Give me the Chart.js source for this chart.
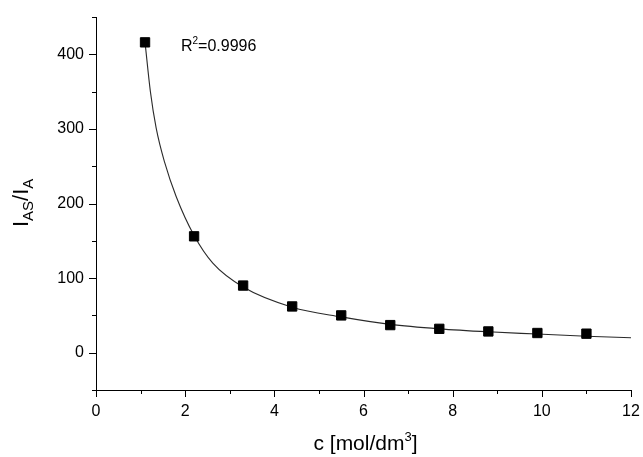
<!DOCTYPE html>
<html>
<head>
<meta charset="utf-8">
<script src="https://cdn.jsdelivr.net/npm/chart.js@4.4.1/dist/chart.umd.min.js"></script>
<style>
  html, body { margin: 0; padding: 0; background: #fff; }
  #wrap { width: 643px; height: 457px; position: relative; }
</style>
</head>
<body>
<div id="wrap"><canvas id="c" width="643" height="457"></canvas></div>
<script>
// ---- data ----
const concentration = [1.1, 2.2, 3.3, 4.4, 5.5, 6.6, 7.7, 8.8, 9.9, 11.0];
const intensityRatio = [416, 156, 90, 62, 50, 37, 32, 28.5, 26.4, 25.5];
// fitted curve
const fitX = [1.1, 1.22, 1.35, 1.54, 1.8, 2.2, 2.62, 3.3, 4.4, 5.5, 6.6, 7.7, 8.8, 9.9, 11, 12];
const fitY = [416, 350, 301, 255, 209, 157, 120, 88, 61, 48, 38, 32, 28, 25, 22, 20];
const xMajorTicks = [0, 2, 4, 6, 8, 10, 12];
const yMajorTicks = [0, 100, 200, 300, 400];
const rSquaredText = "=0.9996";

const FONT = "'Liberation Sans', Arial, sans-serif";

const decorPlugin = {
  id: 'decor',
  afterDraw(chart) {
    const ctx = chart.ctx;
    const xs = chart.scales.x, ys = chart.scales.y;
    ctx.save();
    ctx.strokeStyle = '#000';
    ctx.lineWidth = 1;
    // y ticks (outward, left)
    ys.ticks.forEach(t => {
      const py = Math.round(ys.getPixelForValue(t.value)) + 0.5;
      const len = yMajorTicks.includes(t.value) ? 7 : 4;
      ctx.beginPath();
      ctx.moveTo(ys.right - len, py);
      ctx.lineTo(ys.right, py);
      ctx.stroke();
    });
    // x ticks (outward, down)
    xs.ticks.forEach(t => {
      const px = Math.round(xs.getPixelForValue(t.value)) + 0.5;
      const len = xMajorTicks.includes(t.value) ? 7 : 4;
      ctx.beginPath();
      ctx.moveTo(px, xs.top);
      ctx.lineTo(px, xs.top + len);
      ctx.stroke();
    });

    ctx.fillStyle = '#000';
    // x axis title: c [mol/dm³]
    const ca = chart.chartArea;
    ctx.font = '21px ' + FONT;
    const part1 = 'c [mol/dm', part3 = ']';
    ctx.textBaseline = 'alphabetic';
    const w1 = ctx.measureText(part1).width;
    const w3 = ctx.measureText(part3).width;
    ctx.font = '13px ' + FONT;
    const w2 = ctx.measureText('3').width;
    const total = w1 + w2 + w3;
    let sx = (ca.left + ca.right) / 2 - total / 2 + 2;
    const by = 450;
    ctx.font = '21px ' + FONT;
    ctx.textAlign = 'left';
    ctx.fillText(part1, sx, by);
    ctx.font = '13px ' + FONT;
    ctx.fillText('3', sx + w1, by - 9);
    ctx.font = '21px ' + FONT;
    ctx.fillText(part3, sx + w1 + w2, by);

    // y axis title: I_AS / I_A (rotated)
    ctx.save();
    ctx.translate(28, 227);
    ctx.rotate(-Math.PI / 2);
    let cx = 0;
    const segs = [
      ['I', 22, 0], ['AS', 15, 5], ['/', 22, 0], ['I', 22, 0], ['A', 15, 5]
    ];
    segs.forEach(([txt, size, dy]) => {
      ctx.font = size + 'px ' + FONT;
      ctx.fillText(txt, cx, dy);
      cx += ctx.measureText(txt).width;
    });
    ctx.restore();

    // R² annotation
    const rx = 181, ry = 51;
    ctx.font = '16px ' + FONT;
    ctx.fillText('R', rx, ry);
    const wr = ctx.measureText('R').width;
    ctx.font = '10px ' + FONT;
    ctx.fillText('2', rx + wr, ry - 7);
    const w2b = ctx.measureText('2').width;
    ctx.font = '16px ' + FONT;
    ctx.fillText(rSquaredText, rx + wr + w2b, ry);
    ctx.restore();
  }
};

new Chart(document.getElementById('c'), {
  type: 'scatter',
  data: {
    datasets: [
      {
        label: 'fit',
        data: fitX.map((x, i) => ({ x: x, y: fitY[i] })),
        showLine: true,
        borderColor: '#2a2a2a',
        borderWidth: 1.1,
        pointRadius: 0,
        cubicInterpolationMode: 'monotone',
        order: 2
      },
      {
        label: 'data',
        data: concentration.map((x, i) => ({ x: x, y: intensityRatio[i] })),
        pointStyle: 'rect',
        pointRadius: 6.6,
        backgroundColor: '#000',
        borderColor: '#000',
        borderWidth: 1,
        order: 1
      }
    ]
  },
  options: {
    responsive: false,
    animation: false,
    layout: { padding: { top: 17, right: 12, left: 0, bottom: 0 } },
    plugins: {
      legend: { display: false },
      tooltip: { enabled: false },
      title: { display: false }
    },
    scales: {
      x: {
        type: 'linear',
        min: 0, max: 12,
        grid: { display: false, drawTicks: false },
        border: { display: true, color: '#000', width: 1 },
        ticks: {
          stepSize: 1,
          padding: 12,
          color: '#000',
          font: { family: FONT, size: 16 },
          maxRotation: 0,
          autoSkip: false,
          callback: (v) => xMajorTicks.includes(v) ? String(v) : ''
        },
        afterFit: (s) => { s.height = 67; s.paddingLeft = 0; s.paddingRight = 0; }
      },
      y: {
        type: 'linear',
        min: -50, max: 450,
        grid: { display: false, drawTicks: false },
        border: { display: true, color: '#000', width: 1 },
        ticks: {
          stepSize: 50,
          padding: 12,
          color: '#000',
          font: { family: FONT, size: 16 },
          autoSkip: false,
          callback: (v) => yMajorTicks.includes(v) ? String(v) : ''
        },
        afterFit: (s) => { s.width = 96; s.paddingTop = 0; s.paddingBottom = 0; }
      }
    }
  },
  plugins: [decorPlugin]
});
</script>
</body>
</html>
